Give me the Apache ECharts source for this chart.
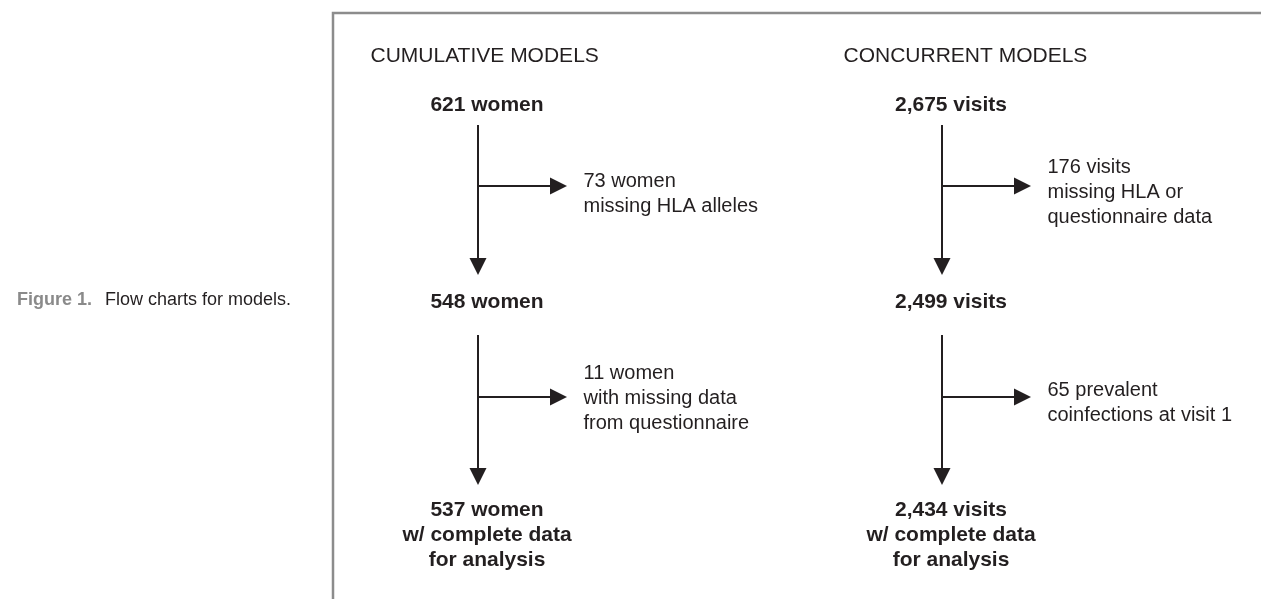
<!DOCTYPE html>
<html>
<head>
<meta charset="utf-8">
<script src="https://cdn.jsdelivr.net/npm/echarts@6/dist/echarts.min.js"></script>
<style>
  html, body { margin: 0; padding: 0; background: #fff; }
  #chart { width: 1261px; height: 599px; }
</style>
</head>
<body>
<div id="chart"></div>
<script>
// ---- data ----
const columnTitles = ['CUMULATIVE MODELS', 'CONCURRENT MODELS'];
const unitNames = ['women', 'visits'];
const stageCounts = [[621, 548, 537], [2675, 2499, 2434]];
const finalNote = 'w/ complete data\nfor analysis';
const excludedCounts = [[73, 11], [176, 65]];
const excludedReasons = [
  ['women\nmissing HLA alleles', 'women\nwith missing data\nfrom questionnaire'],
  ['visits\nmissing HLA or\nquestionnaire data', 'prevalent\ncoinfections at visit 1']
];

// ---- layout (axis units = page pixels) ----
const colX = [478, 942];
const textShift = 9;          // count labels sit a bit right of the arrow
const titleX = [370, 843];
const titleY = 56;
const stageY = [105, 302, 535];
const arrowTop = [125, 335];
const arrowTip = [275, 485];
const branchY = [186, 397];
const branchLen = 89;
const headSize = 17;
const excludedShift = [[8, 1], [6, 6]];
const LINE_H = 25;
const INK = '#231f20';
const FONT = '"Liberation Sans", Arial, Helvetica, sans-serif';

const fmt = n => n.toLocaleString('en-US');

let arrows = [];
let texts = [];
colX.forEach((x, c) => {
  texts.push({
    value: [titleX[c], titleY], name: columnTitles[c],
    label: { position: 'right', distance: 0, fontWeight: 'normal', fontSize: 21 }
  });
  stageCounts[c].forEach((n, s) => {
    let name = fmt(n) + ' ' + unitNames[c];
    if (s === stageCounts[c].length - 1) name += '\n' + finalNote;
    texts.push({
      value: [x + textShift, stageY[s]], name: name,
      label: { position: 'inside', fontWeight: 'bold', fontSize: 21 }
    });
  });
  for (let k = 0; k < 2; k++) {
    // arrow symbol is centred on the line end, so stop half a head short
    arrows.push({ coords: [[x, arrowTop[k]], [x, arrowTip[k] - headSize / 2]] });
    arrows.push({ coords: [[x, branchY[k]], [x + branchLen - headSize / 2, branchY[k]]] });
    const name = excludedCounts[c][k] + ' ' + excludedReasons[c][k];
    texts.push({
      value: [x + branchLen, branchY[k] + excludedShift[c][k]], name: name,
      label: { position: 'right', distance: 16, fontWeight: 'normal', fontSize: 20 }
    });
  }
});

const chart = echarts.init(document.getElementById('chart'));
chart.setOption({
  animation: false,
  title: {
    left: 12, top: 286,
    text: '{a|Figure 1.}{b|Flow charts for models.}',
    textStyle: {
      rich: {
        a: { fontFamily: FONT, fontSize: 18, fontWeight: 'bold', color: '#8a8a8a', padding: [0, 13, 0, 0] },
        b: { fontFamily: FONT, fontSize: 18, fontWeight: 'normal', color: INK }
      }
    }
  },
  graphic: [{
    type: 'rect', silent: true,
    shape: { x: 333, y: 13, width: 1000, height: 700 },
    style: { fill: 'none', stroke: '#8c8c8c', lineWidth: 2.5 }
  }],
  grid: { left: 0, right: 0, top: 0, bottom: 0 },
  xAxis: { type: 'value', min: 0, max: 1261, show: false },
  yAxis: { type: 'value', min: 0, max: 599, inverse: true, show: false },
  series: [
    {
      type: 'lines', coordinateSystem: 'cartesian2d',
      symbol: ['none', 'triangle'], symbolSize: headSize,
      lineStyle: { color: INK, width: 2, opacity: 1, curveness: 0 },
      data: arrows
    },
    {
      type: 'scatter', symbolSize: 1,
      itemStyle: { color: 'rgba(0,0,0,0)', opacity: 1 },
      label: {
        show: true, formatter: p => p.name,
        fontFamily: FONT, lineHeight: LINE_H, color: INK
      },
      emphasis: { disabled: true },
      data: texts
    }
  ]
});
</script>
</body>
</html>
